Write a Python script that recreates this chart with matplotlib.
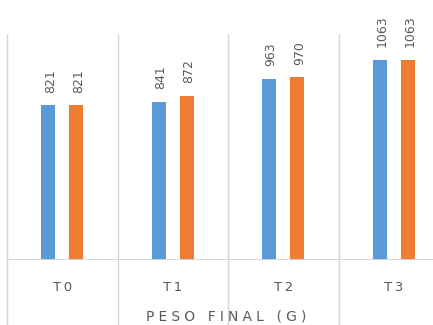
import matplotlib
matplotlib.use("Agg")
import matplotlib.pyplot as plt
import numpy as np

categories = ["T0", "T1", "T2", "T3"]
serie_azul = [821, 841, 963, 1063]
serie_naranja = [821, 872, 970, 1063]
axis_title = "PESO FINAL (G)"

blue = "#5B9BD5"
orange = "#ED7D31"
txt = "#595959"
grid = "#D4D4D4"

def spaced(s, sp="\u2009"):
    return sp.join(list(s))

fig = plt.figure(figsize=(4.33, 3.25), dpi=100)
W, H = 433, 325
left_px, right_px, top_px, bot_px = 7, 449, 34, 260
ax = fig.add_axes([left_px / W, (H - bot_px) / H, (right_px - left_px) / W, (bot_px - top_px) / H])

x = np.arange(len(categories))
bw = 0.127
off = 0.128
b1 = ax.bar(x - off, serie_azul, bw, color=blue, zorder=3)
b2 = ax.bar(x + off, serie_naranja, bw, color=orange, zorder=3)

ax.set_xlim(-0.5, len(categories) - 0.5)
ax.set_ylim(0, 1200)

for bars, vals in ((b1, serie_azul), (b2, serie_naranja)):
    for r, v in zip(bars, vals):
        ax.annotate(str(v), (r.get_x() + r.get_width() / 2, v), xytext=(1.5, 9),
                    textcoords="offset points", rotation=90, ha="center", va="bottom",
                    fontsize=9, color=txt)

# category separators
bounds = np.arange(len(categories) + 1) - 0.5
ax.vlines(bounds, -400, 1200, colors=grid, linewidth=1.0, clip_on=False, zorder=1)
ax.axhline(0, color=grid, linewidth=1.3, zorder=4)

for s in ax.spines.values():
    s.set_visible(False)
ax.set_yticks([])
ax.set_xticks(x)
ax.set_xticklabels([spaced(c, "\u2009") for c in categories], fontsize=9.5, color=txt)
ax.tick_params(axis="x", length=0, pad=15)
ax.set_xlabel(spaced(axis_title, "\u2009\u200a"), fontsize=10, color=txt)
ax.xaxis.set_label_coords((226 - left_px) / (right_px - left_px), -(317 - bot_px) / (bot_px - top_px))
ax.xaxis.label.set_va("center")

fig.savefig("out.png", dpi=100)
